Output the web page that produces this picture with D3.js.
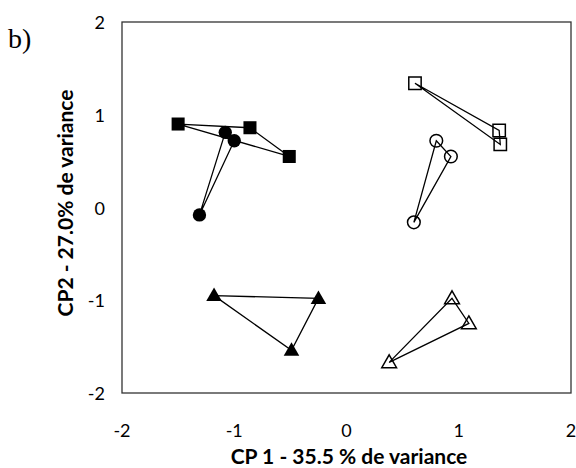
<!DOCTYPE html>
<html>
<head>
<meta charset="utf-8">
<script src="https://cdn.jsdelivr.net/npm/d3@7"></script>
<style>
  body { margin: 0; background: #fff; }
  text { font-family: Lato, "Open Sans", sans-serif; fill: #000; }
  text.panel { font-family: "Liberation Serif", serif; }
</style>
</head>
<body>
<svg id="chart" width="576" height="468"></svg>
<script>
// groups: each one is a triangle of three points joined by lines
var groups = ["squareFilled", "circleFilled", "triangleFilled", "squareOpen", "circleOpen", "triangleOpen"];
var xVals = [
  [-1.50, -0.86, -0.51],
  [-1.08, -1.00, -1.31],
  [-1.18, -0.25, -0.49],
  [0.61, 1.36, 1.37],
  [0.80, 0.93, 0.60],
  [0.94, 1.09, 0.38]
];
var yVals = [
  [0.90, 0.86, 0.55],
  [0.81, 0.72, -0.08],
  [-0.95, -0.98, -1.54],
  [1.34, 0.83, 0.68],
  [0.72, 0.55, -0.16],
  [-0.98, -1.25, -1.67]
];
var xTicks = [-2, -1, 0, 1, 2];
var yTicks = [-2, -1, 0, 1, 2];

var svg = d3.select("#chart"),
    mLeft = 122, mRight = 571, mTop = 22, mBottom = 393;

var x = d3.scaleLinear().domain([-2, 2]).range([mLeft, mRight]);
var y = d3.scaleLinear().domain([-2, 2]).range([mBottom, mTop]);

svg.append("rect")
  .attr("x", mLeft).attr("y", mTop)
  .attr("width", mRight - mLeft).attr("height", mBottom - mTop)
  .attr("fill", "none").attr("stroke", "#333").attr("stroke-width", 1.3);

svg.selectAll(".xt").data(xTicks).enter().append("text")
  .attr("x", d => x(d)).attr("y", 437)
  .attr("text-anchor", "middle").attr("font-size", 18)
  .text(d => d);

svg.selectAll(".yt").data(yTicks).enter().append("text")
  .attr("x", 105).attr("y", d => y(d) + 7)
  .attr("text-anchor", "end").attr("font-size", 18)
  .text(d => d);

svg.append("text")
  .attr("x", 349).attr("y", 464)
  .attr("text-anchor", "middle").attr("font-size", 21).attr("font-weight", "bold")
  .text("CP 1 - 35.5 % de variance");

svg.append("text")
  .attr("transform", "translate(73,203) rotate(-90)")
  .attr("text-anchor", "middle").attr("font-size", 21).attr("font-weight", "bold")
  .text("CP2 - 27.0% de variance");

svg.append("text")
  .attr("class", "panel")
  .attr("x", 8).attr("y", 48)
  .attr("font-size", 28)
  .text("b)");

var symbols = {
  square: d3.symbolSquare,
  circle: d3.symbolCircle,
  triangle: d3.symbolTriangle
};
var sizes = { square: 170, circle: 140, triangle: 105 };

var line = d3.line().curve(d3.curveLinearClosed);

groups.forEach(function (g, i) {
  var pts = xVals[i].map((v, j) => [x(v), y(yVals[i][j])]);
  var open = g.indexOf("Open") > 0,
      shape = g.replace("Filled", "").replace("Open", "");

  svg.append("path")
    .attr("d", line(pts))
    .attr("fill", "none").attr("stroke", "#000").attr("stroke-width", 1.3);

  svg.selectAll(".m" + i).data(pts).enter().append("path")
    .attr("transform", d => "translate(" + d[0] + "," + (d[1] + (shape === "triangle" ? 1 : 0)) + ")")
    .attr("d", d3.symbol().type(symbols[shape]).size(open ? sizes[shape] * 0.9 : sizes[shape]))
    .attr("fill", open ? "none" : "#000")
    .attr("stroke", "#000").attr("stroke-width", open ? 1.5 : 0);
});
</script>
</body>
</html>
